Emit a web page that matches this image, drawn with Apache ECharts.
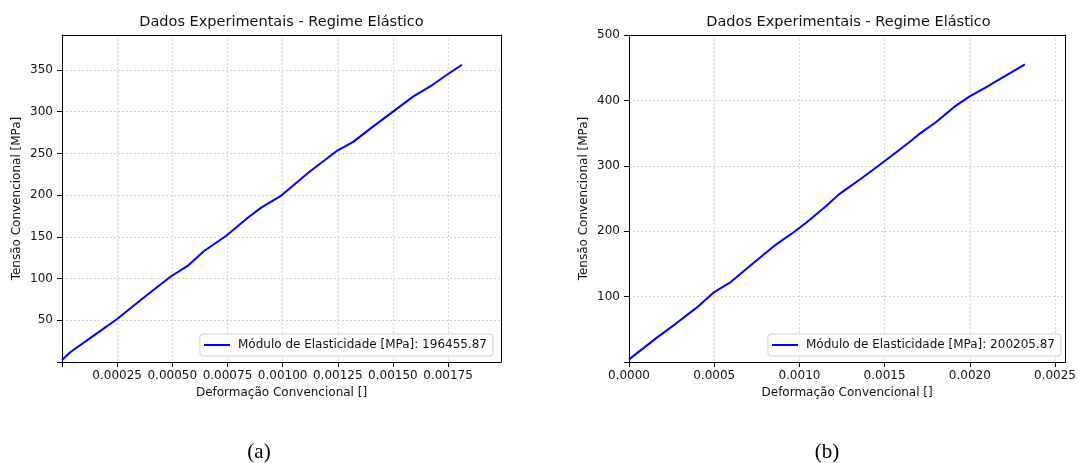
<!DOCTYPE html>
<html>
<head>
<meta charset="utf-8">
<title>Dados Experimentais - Regime Elástico</title>
<script src="https://cdn.jsdelivr.net/npm/echarts@6/dist/echarts.min.js"></script>
<style>
	html, body { margin: 0; padding: 0; background: #fff; }
	#main { width: 1079px; height: 463px; }
</style>
</head>
<body>
<div id="main"></div>
<script>
// (a) ensaio 1
var strainA = [0, 0.0000373, 0.0001435, 0.00025, 0.000371, 0.000493, 0.000569, 0.000644, 0.000743, 0.000842,
	0.000903, 0.000994, 0.001122, 0.001244, 0.00132, 0.001411, 0.001502, 0.001593, 0.001669, 0.001745, 0.001813];
var stressA = [2.5, 11.7, 31.6, 51.5, 77.4, 102.5, 115.2, 133.1, 151, 173,
	185, 199.5, 228, 252.7, 263.9, 282.5, 300.5, 318.4, 330.3, 344.3, 356.3];

// (b) ensaio 2
var strainB = [0, 0.0001636, 0.00027, 0.000397, 0.000495, 0.000592, 0.000709, 0.000864, 0.000962, 0.00104, 0.001157,
	0.001232, 0.001369, 0.001505, 0.001641, 0.0017, 0.001797, 0.001914, 0.002002, 0.002089, 0.002206, 0.002323];
var stressB = [4, 37.3, 57.6, 83.1, 106, 121.3, 146.7, 179.9, 197.7, 213, 238.4,
	256.3, 281.8, 308.2, 335.3, 348, 365.8, 391.2, 406.5, 419.3, 437, 455];

var moduleA = '196455.87';
var moduleB = '200205.87';
var titleText = 'Dados Experimentais - Regime Elástico';
var xName = 'Deformação Convencional []';
var yName = 'Tensão Convencional [MPa]';
var captions = ['(a)', '(b)'];

var font = 'DejaVu Sans, sans-serif';
var textColor = '#111';

function pairs(xs, ys) {
	var out = [];
	for (var i = 0; i < xs.length; i++) {
		out.push([xs[i], ys[i]]);
	}
	return out;
}

function xAxis(idx, min, max, step, digits) {
	return {
		type: 'value', gridIndex: idx, min: min, max: max, interval: step,
		name: xName, nameLocation: 'middle', nameGap: 25,
		nameTextStyle: { color: textColor, fontFamily: font, fontSize: 12 },
		axisLine: { show: true, lineStyle: { color: '#000', width: 1 } },
		axisTick: { show: true, length: 5, lineStyle: { color: '#000' } },
		axisLabel: {
			color: textColor, fontFamily: font, fontSize: 12, margin: 8, showMaxLabel: false,
			formatter: function (v) {
				if (idx === 0 && Math.abs(v) < 1e-9) return '';
				return v.toFixed(digits);
			}
		},
		splitLine: { show: true, lineStyle: { color: '#c8c8c8', width: 0.8, type: [2, 2] } }
	};
}

function yAxis(idx, min, max, step, showMax) {
	return {
		type: 'value', gridIndex: idx, min: min, max: max, interval: step,
		name: yName, nameLocation: 'middle', nameGap: 39,
		nameTextStyle: { color: textColor, fontFamily: font, fontSize: 12 },
		axisLine: { show: true, lineStyle: { color: '#000', width: 1 } },
		axisTick: { show: true, length: 5, lineStyle: { color: '#000' } },
		axisLabel: {
			color: textColor, fontFamily: font, fontSize: 12, margin: 9, showMaxLabel: showMax,
			formatter: function (v) {
				if (v === 0) return '';
				return Math.round(v) + '';
			}
		},
		splitLine: { show: true, lineStyle: { color: '#c8c8c8', width: 0.8, type: [2, 2] } }
	};
}

// eixos de moldura (topo / direita), so a linha
function frameAxis(idx, pos) {
	return {
		type: 'value', gridIndex: idx, position: pos,
		axisLine: { show: true, onZero: false, lineStyle: { color: '#000', width: 1 } },
		axisTick: { show: false }, axisLabel: { show: false }, splitLine: { show: false }
	};
}

function legend(name, right) {
	return {
		data: [{ name: name, icon: 'rect' }], right: right, bottom: 107, orient: 'vertical',
		itemWidth: 26, itemHeight: 2, padding: [5, 6, 5, 4],
		backgroundColor: '#fff', borderColor: '#d0d0d0', borderWidth: 1, borderRadius: 3,
		textStyle: { color: textColor, fontFamily: font, fontSize: 12, padding: [0, 0, 0, 3] },
		selectedMode: false
	};
}

var nameA = 'Módulo de Elasticidade [MPa]: ' + moduleA;
var nameB = 'Módulo de Elasticidade [MPa]: ' + moduleB;

var option = {
	animation: false,
	backgroundColor: '#fff',
	grid: [
		{ left: 62, top: 35, width: 439, height: 327 },
		{ left: 629, top: 35, width: 439, height: 327 }
	],
	xAxis: [xAxis(0, 0, 0.00199, 0.00025, 5), xAxis(1, 0, 0.00256, 0.0005, 4),
		frameAxis(0, 'top'), frameAxis(1, 'top')],
	yAxis: [yAxis(0, 0, 392, 50, false), yAxis(1, 0, 500, 100, true),
		frameAxis(0, 'right'), frameAxis(1, 'right')],
	legend: [legend(nameA, 586), legend(nameB, 18)],
	graphic: [
		{ type: 'text', x: 281.5, y: 22, style: { text: titleText, fill: textColor, font: '14.5px ' + font, textAlign: 'center', textVerticalAlign: 'middle' } },
		{ type: 'text', x: 848.5, y: 22, style: { text: titleText, fill: textColor, font: '14.5px ' + font, textAlign: 'center', textVerticalAlign: 'middle' } },
		{ type: 'text', x: 259, y: 452, style: { text: captions[0], fill: '#000', font: '21px "Liberation Serif", serif', textAlign: 'center', textVerticalAlign: 'middle' } },
		{ type: 'text', x: 827, y: 452, style: { text: captions[1], fill: '#000', font: '21px "Liberation Serif", serif', textAlign: 'center', textVerticalAlign: 'middle' } }
	],
	series: [
		{
			name: nameA, type: 'line', xAxisIndex: 0, yAxisIndex: 0,
			data: pairs(strainA, stressA), symbol: 'none', smooth: false,
			lineStyle: { color: '#0000ff', width: 2 }, itemStyle: { color: '#0000ff' }
		},
		{
			name: nameB, type: 'line', xAxisIndex: 1, yAxisIndex: 1,
			data: pairs(strainB, stressB), symbol: 'none', smooth: false,
			lineStyle: { color: '#0000ff', width: 2 }, itemStyle: { color: '#0000ff' }
		}
	]
};

var chart = echarts.init(document.getElementById('main'));
chart.setOption(option);
</script>
</body>
</html>
